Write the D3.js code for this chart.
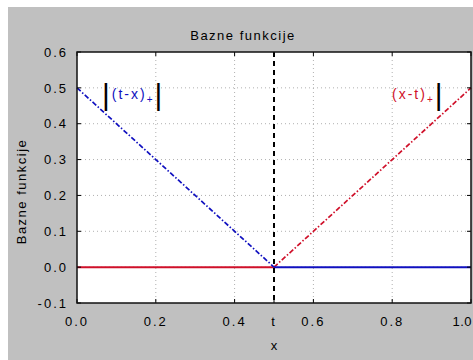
<!DOCTYPE html>
<html>
<head>
<meta charset="utf-8">
<script src="https://cdn.jsdelivr.net/npm/d3@7"></script>
<style>
  html, body { margin: 0; padding: 0; background: #ffffff; }
  svg { display: block; }
  text { font-family: "Liberation Sans", Arial, sans-serif; fill: #000; }
</style>
</head>
<body>
<svg id="chart" width="473" height="360"></svg>
<script>
// Knot position and basis functions (t - x)+ and (x - t)+
const knot = 0.5;
const xs = [0, 0.5, 1];
const leftBasis = [0.5, 0, 0];   // (t - x)+
const rightBasis = [0, 0, 0.5];  // (x - t)+

const xTicks = [0, 0.2, 0.4, 0.5, 0.6, 0.8, 1.0];
const xTickLabels = ["0.0", "0.2", "0.4", "t", "0.6", "0.8", "1.0"];
const yTicks = [-0.1, 0, 0.1, 0.2, 0.3, 0.4, 0.5, 0.6];
const yTickLabels = ["-0.1", "0.0", "0.1", "0.2", "0.3", "0.4", "0.5", "0.6"];

const titleText = "Bazne funkcije";
const xLabel = "x";
const yLabel = "Bazne funkcije";

const W = 473, H = 360;
const plot = { left: 77, right: 471, top: 52, bottom: 303 };

const svg = d3.select("#chart");

// figure background
svg.append("rect").attr("x", 8).attr("y", 7).attr("width", W - 8).attr("height", H - 7)
  .attr("fill", "#c0c0c0");

const x = d3.scaleLinear().domain([0, 1]).range([plot.left, plot.right]);
const y = d3.scaleLinear().domain([-0.1, 0.6]).range([plot.bottom, plot.top]);

// plot area
svg.append("rect")
  .attr("x", plot.left).attr("y", plot.top)
  .attr("width", plot.right - plot.left).attr("height", plot.bottom - plot.top)
  .attr("fill", "#ffffff");

// grid
const grid = svg.append("g").attr("stroke", "#b0b0b0").attr("stroke-width", 1)
  .attr("stroke-dasharray", "1,3");
grid.selectAll("line.v").data(xTicks.filter(d => d > 0 && d < 1 && d !== knot)).join("line")
  .attr("x1", d => x(d)).attr("x2", d => x(d))
  .attr("y1", plot.top).attr("y2", plot.bottom);
grid.selectAll("line.h").data(yTicks.filter(d => d > -0.1 && d < 0.6)).join("line")
  .attr("x1", plot.left).attr("x2", plot.right)
  .attr("y1", d => y(d)).attr("y2", d => y(d));

// split a piecewise-linear series into its zero and positive parts
function segments(vals) {
  const segs = [];
  for (let i = 0; i < xs.length - 1; i++) {
    const pos = vals[i] > 0 || vals[i + 1] > 0;
    segs.push({ pts: [[xs[i], vals[i]], [xs[i + 1], vals[i + 1]]], pos });
  }
  return segs;
}
const line = d3.line().x(d => x(d[0])).y(d => y(d[1]));

function drawBasis(vals, color) {
  svg.append("g").selectAll("path").data(segments(vals)).join("path")
    .attr("d", d => line(d.pts))
    .attr("fill", "none")
    .attr("stroke", color)
    .attr("stroke-width", d => d.pos ? 1.7 : 2)
    .attr("stroke-dasharray", d => d.pos ? "5,2,1.5,2" : null);
}
drawBasis(rightBasis, "#d0102a");
drawBasis(leftBasis, "#1010c0");

// knot marker
svg.append("line")
  .attr("x1", x(knot)).attr("x2", x(knot))
  .attr("y1", plot.top).attr("y2", plot.bottom)
  .attr("stroke", "#000").attr("stroke-width", 2)
  .attr("stroke-dasharray", "5,4");

// axes box with inward ticks
const axisG = svg.append("g");
const tickLen = 4;
axisG.selectAll("line.xt").data(xTicks).join("line")
  .attr("x1", d => x(d)).attr("x2", d => x(d))
  .attr("y1", plot.bottom).attr("y2", plot.bottom - tickLen)
  .attr("stroke", "#000");
axisG.selectAll("line.xtt").data(xTicks).join("line")
  .attr("x1", d => x(d)).attr("x2", d => x(d))
  .attr("y1", plot.top).attr("y2", plot.top + tickLen)
  .attr("stroke", "#000");
axisG.selectAll("line.yt").data(yTicks).join("line")
  .attr("x1", plot.left).attr("x2", plot.left + tickLen)
  .attr("y1", d => y(d)).attr("y2", d => y(d))
  .attr("stroke", "#000");
axisG.selectAll("line.ytr").data(yTicks).join("line")
  .attr("x1", plot.right).attr("x2", plot.right - tickLen)
  .attr("y1", d => y(d)).attr("y2", d => y(d))
  .attr("stroke", "#000");
svg.append("rect")
  .attr("x", plot.left).attr("y", plot.top)
  .attr("width", plot.right - plot.left).attr("height", plot.bottom - plot.top)
  .attr("fill", "none").attr("stroke", "#111").attr("stroke-width", 1.5);

// tick labels (the last one is kept inside the figure edge)
const lastX = xTicks.length - 1;
svg.append("g").selectAll("text").data(xTicks).join("text")
  .attr("x", (d, i) => i === lastX ? W - 1 : x(d)).attr("y", plot.bottom + 23)
  .attr("text-anchor", (d, i) => i === lastX ? "end" : "middle")
  .attr("font-size", 13).attr("letter-spacing", (d, i) => i === lastX ? 0.5 : 2)
  .text((d, i) => xTickLabels[i]);
svg.append("g").selectAll("text").data(yTicks).join("text")
  .attr("x", plot.left - 9).attr("y", d => y(d))
  .attr("dy", "0.36em")
  .attr("text-anchor", "end")
  .attr("font-size", 13).attr("letter-spacing", 2)
  .text((d, i) => yTickLabels[i]);

// title and axis labels
svg.append("text").attr("x", 243).attr("y", 40).attr("text-anchor", "middle")
  .attr("font-size", 13).attr("letter-spacing", 1.5).text(titleText);
svg.append("text").attr("x", x(knot)).attr("y", 350).attr("text-anchor", "middle")
  .attr("font-size", 13).text(xLabel);
svg.append("text")
  .attr("transform", `translate(26,${(plot.top + plot.bottom) / 2 + 14}) rotate(-90)`)
  .attr("text-anchor", "middle")
  .attr("font-size", 13).attr("letter-spacing", 1.5).text(yLabel);

// function annotations
function annotate(xPos, yPos, body, color, leftBar) {
  const t = svg.append("text").attr("x", xPos).attr("y", yPos).attr("font-size", 14)
    .attr("letter-spacing", 2);
  if (leftBar) t.append("tspan").attr("fill", "#000").attr("font-size", 30)
    .attr("dy", 6).text("|");
  t.append("tspan").attr("fill", color).attr("dy", leftBar ? -6 : 0).text(body);
  t.append("tspan").attr("fill", color).attr("font-size", 10).attr("dy", 4).text("+");
  t.append("tspan").attr("fill", "#000").attr("font-size", 30)
    .attr("dy", 2).text("|");
}
annotate(102, 99, "(t-x)", "#1010c0", true);
annotate(392, 99, "(x-t)", "#d0102a", false);
</script>
</body>
</html>
